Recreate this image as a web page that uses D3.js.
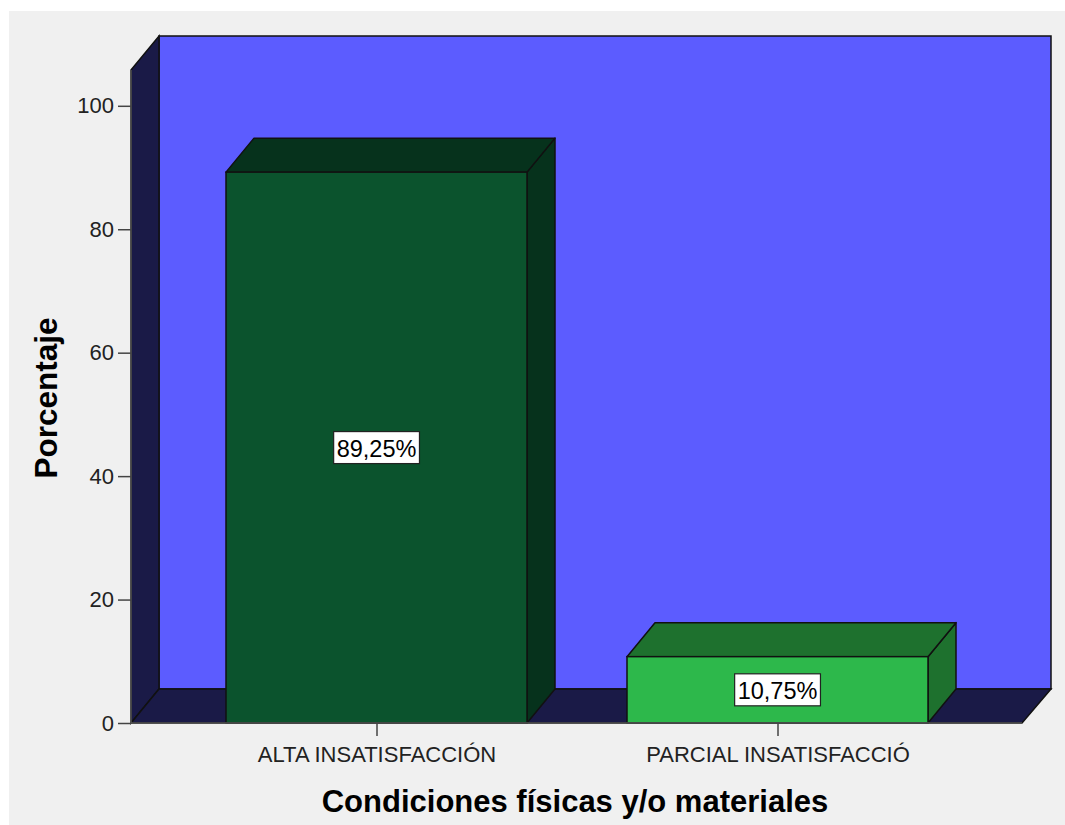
<!DOCTYPE html>
<html><head><meta charset="utf-8">
<script src="https://cdn.jsdelivr.net/npm/d3@7"></script>
<style>html,body{margin:0;padding:0;background:#fff;}svg{display:block;}</style>
</head><body>
<script>
const categories = ["ALTA INSATISFACCIÓN", "PARCIAL INSATISFACCIÓ"];
const values = [89.25, 10.75];
const valueLabels = ["89,25%", "10,75%"];
const yTicks = [0, 20, 40, 60, 80, 100];
const yMax = 105.8;
const frontColors = ["#0b532d", "#2db84b"];
const topColors = ["#06321c", "#1e712e"];
const sideColors = ["#06321c", "#1e712e"];

const W = 1065, H = 825;
const FONT = "Liberation Sans, Arial, sans-serif";
const svg = d3.select("body").append("svg").attr("width", W).attr("height", H);
svg.append("rect").attr("x", 9).attr("y", 11).attr("width", W - 9).attr("height", H - 11).attr("fill", "#f0f0f0");

const x0 = 131, x1 = 1022, yBase = 723;
const dx = 28, dy = -34;
const y = d3.scaleLinear().domain([0, yMax]).range([yBase, 70]);
const x = d3.scalePoint().domain(categories).range([376.5, 777.5]);
const bw = 301;

const poly = pts => pts.map(p => p.join(",")).join(" ");
const stroke = "#111";

// back wall
svg.append("polygon").attr("points", poly([[x0+dx, y(yMax)+dy],[x1+dx+1, y(yMax)+dy],[x1+dx+1, yBase+dy],[x0+dx, yBase+dy]]))
  .attr("fill", "#5c5cff").attr("stroke", stroke).attr("stroke-width", 1.5);
// left wall
svg.append("polygon").attr("points", poly([[x0, y(yMax)],[x0+dx, y(yMax)+dy],[x0+dx, yBase+dy],[x0, yBase]]))
  .attr("fill", "#1a1a47").attr("stroke", stroke).attr("stroke-width", 1.5);
// floor
svg.append("polygon").attr("points", poly([[x0, yBase],[x0+dx, yBase+dy],[x1+dx+1, yBase+dy],[x1, yBase]]))
  .attr("fill", "#1a1a47").attr("stroke", stroke).attr("stroke-width", 1.5);

// bars
categories.forEach((c, i) => {
  const xl = x(c) - bw/2, xr = x(c) + bw/2, yt = y(values[i]);
  const g = svg.append("g");
  g.append("polygon").attr("points", poly([[xr, yt],[xr+dx, yt+dy],[xr+dx, yBase+dy],[xr, yBase]]))
    .attr("fill", sideColors[i]).attr("stroke", stroke).attr("stroke-width", 1.5).attr("stroke-linejoin", "round");
  g.append("polygon").attr("points", poly([[xl, yt],[xl+dx, yt+dy],[xr+dx, yt+dy],[xr, yt]]))
    .attr("fill", topColors[i]).attr("stroke", stroke).attr("stroke-width", 1.5).attr("stroke-linejoin", "round");
  g.append("rect").attr("x", xl).attr("y", yt).attr("width", bw).attr("height", yBase - yt)
    .attr("fill", frontColors[i]).attr("stroke", stroke).attr("stroke-width", 1.5);
  // value label
  const cy = y(values[i] / 2);
  const t = g.append("text").attr("x", x(c)).attr("y", cy + 1).attr("text-anchor", "middle")
    .attr("dominant-baseline", "central").style("font-family", FONT)
    .style("font-size", "23.5px").attr("fill", "#000").text(valueLabels[i]);
  const bb = t.node().getBBox();
  g.insert("rect", "text").attr("x", bb.x - 3).attr("y", cy - 16).attr("width", bb.width + 6).attr("height", 32)
    .attr("fill", "#fff").attr("stroke", "#222").attr("stroke-width", 1.2);
});

// y axis
const yAxis = d3.axisLeft(y).tickValues(yTicks).tickSize(13).tickPadding(4);
const ya = svg.append("g").attr("transform", `translate(${x0},0)`).call(yAxis);
ya.select(".domain").attr("stroke", "#555").attr("stroke-width", 1.5).attr("d", `M-0,${y(yMax)}V${yBase}`);
ya.selectAll(".tick line").attr("stroke", "#444").attr("stroke-width", 1.5);
ya.selectAll(".tick text").style("font-family", FONT).style("font-size", "22px").attr("fill", "#222");

// x axis
const xAxis = d3.axisBottom(x).tickSize(13).tickPadding(10);
const xa = svg.append("g").attr("transform", `translate(0,${yBase})`).call(xAxis);
xa.select(".domain").attr("stroke", "#555").attr("stroke-width", 1.5).attr("d", `M${x0},0H${x1}`);
xa.selectAll(".tick line").attr("stroke", "#444").attr("stroke-width", 1.5);
xa.selectAll(".tick text").style("font-family", FONT).style("font-size", "22px").attr("fill", "#222");

// titles
svg.append("text").attr("x", 575).attr("y", 812).attr("text-anchor", "middle")
  .style("font-family", FONT).style("font-weight", "bold").style("font-size", "31px")
  .attr("fill", "#000").text("Condiciones físicas y/o materiales");
svg.append("text").attr("transform", "translate(57,398) rotate(-90)").attr("text-anchor", "middle")
  .style("font-family", FONT).style("font-weight", "bold").style("font-size", "31.5px")
  .attr("fill", "#000").text("Porcentaje");
</script>
</body></html>
